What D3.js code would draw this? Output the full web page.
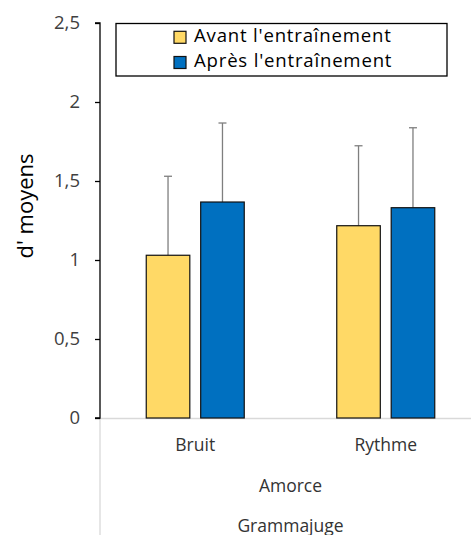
<!DOCTYPE html>
<html><head><meta charset="utf-8">
<script src="https://cdn.jsdelivr.net/npm/d3@7"></script>
<style>body{margin:0;background:#fff}svg{display:block}text{font-family:"Open Sans",sans-serif}</style>
</head><body><svg id="c" width="471" height="535"></svg>
<script>
const categories = ["Bruit", "Rythme"];
const series = ["Avant l'entraînement", "Après l'entraînement"];
const avant = [1.03, 1.217];
const apres = [1.367, 1.331];
const errAvant = [0.50, 0.506];
const errApres = [0.50, 0.506];
const yTicks = [0, 0.5, 1, 1.5, 2, 2.5];
const level2 = "Amorce";
const level3 = "Grammajuge";
const colors = ["#FFD966", "#0070C0"];

(function() {
const svg = d3.select("#c");
const pL = 100, pR = 481, pT = 23, pB = 418;
const y = d3.scaleLinear().domain([0, 2.5]).range([pB, pT]);
const x0 = d3.scaleBand().domain(categories).range([pL, pR]).padding(0);
const x1 = d3.scaleBand().domain(series).range([-49, 49]).paddingInner(0.2);

const data = categories.map((c, i) => ({cat: c, vals: [
  {s: series[0], v: avant[i], e: errAvant[i]},
  {s: series[1], v: apres[i], e: errApres[i]}]}));

svg.append("line").attr("x1", pL).attr("x2", 471).attr("y1", pB + 0.5).attr("y2", pB + 0.5)
  .attr("stroke", "#d9d9d9").attr("stroke-width", 1.3);
svg.append("line").attr("x1", pL).attr("x2", pL).attr("y1", pB).attr("y2", 535)
  .attr("stroke", "#d9d9d9").attr("stroke-width", 1.3);

const g = svg.selectAll("g.cat").data(data).join("g").attr("class", "cat")
  .attr("transform", d => `translate(${x0(d.cat) + x0.bandwidth() / 2},0)`);
g.selectAll("g.err").data(d => d.vals).join("g").attr("class", "err").each(function(d) {
  const cx = x1(d.s) + x1.bandwidth() / 2;
  const sel = d3.select(this);
  sel.append("line").attr("x1", cx).attr("x2", cx).attr("y1", y(d.v)).attr("y2", y(d.v + d.e))
    .attr("stroke", "#7f7f7f").attr("stroke-width", 1.3);
  sel.append("line").attr("x1", cx - 4).attr("x2", cx + 4).attr("y1", y(d.v + d.e)).attr("y2", y(d.v + d.e))
    .attr("stroke", "#7f7f7f").attr("stroke-width", 1.3);
});
g.selectAll("rect").data(d => d.vals).join("rect")
  .attr("x", d => x1(d.s)).attr("width", x1.bandwidth())
  .attr("y", d => y(d.v)).attr("height", d => y(0) - y(d.v))
  .attr("fill", (d, i) => colors[i]).attr("stroke", "#111").attr("stroke-width", 1.2);

const yAxis = d3.axisLeft(y).tickValues(yTicks).tickSize(5).tickPadding(15)
  .tickFormat(d => String(d).replace(".", ","));
const ya = svg.append("g").attr("transform", `translate(${pL},0)`).call(yAxis);
ya.select(".domain").attr("stroke", "#000").attr("stroke-width", 1.3).attr("d", `M-5,${pT}H0V${pB}H-5`);
ya.selectAll(".tick line").attr("stroke", "#000").attr("stroke-width", 1.3);
ya.selectAll(".tick text").attr("font-family", "Open Sans").attr("font-size", 18.5).attr("fill", "#404040")
  .attr("dy", "0.3em");

svg.append("text").attr("transform", `translate(33,${206}) rotate(-90)`)
  .attr("text-anchor", "middle").attr("font-size", 22).attr("fill", "#000").text("d' moyens");

svg.selectAll("text.catl").data(categories).join("text").attr("class", "catl")
  .attr("x", d => x0(d) + x0.bandwidth() / 2).attr("y", 451).attr("text-anchor", "middle")
  .attr("font-size", 17.5).attr("fill", "#333").text(d => d);
svg.append("text").attr("x", (pL + pR) / 2).attr("y", 491.5).attr("text-anchor", "middle")
  .attr("font-size", 17.5).attr("fill", "#333").text(level2);
svg.append("text").attr("x", (pL + pR) / 2).attr("y", 531.5).attr("text-anchor", "middle")
  .attr("font-size", 17.5).attr("fill", "#333").text(level3);

const lg = svg.append("g");
lg.append("rect").attr("x", 116).attr("y", 23.5).attr("width", 331).attr("height", 52.5)
  .attr("fill", "#fff").attr("stroke", "#000").attr("stroke-width", 1.3);
series.forEach((s, i) => {
  const cy = 37.3 + i * 25.2;
  lg.append("rect").attr("x", 174).attr("y", cy - 6).attr("width", 12).attr("height", 12)
    .attr("fill", colors[i]).attr("stroke", "#111").attr("stroke-width", 1.2);
  lg.append("text").attr("x", 194).attr("y", 42.3 + i * 24.6).attr("font-family", "Lato")
    .attr("font-size", 18.6).attr("letter-spacing", 0.8).attr("fill", "#000").text(s);
});
})();
</script></body></html>
